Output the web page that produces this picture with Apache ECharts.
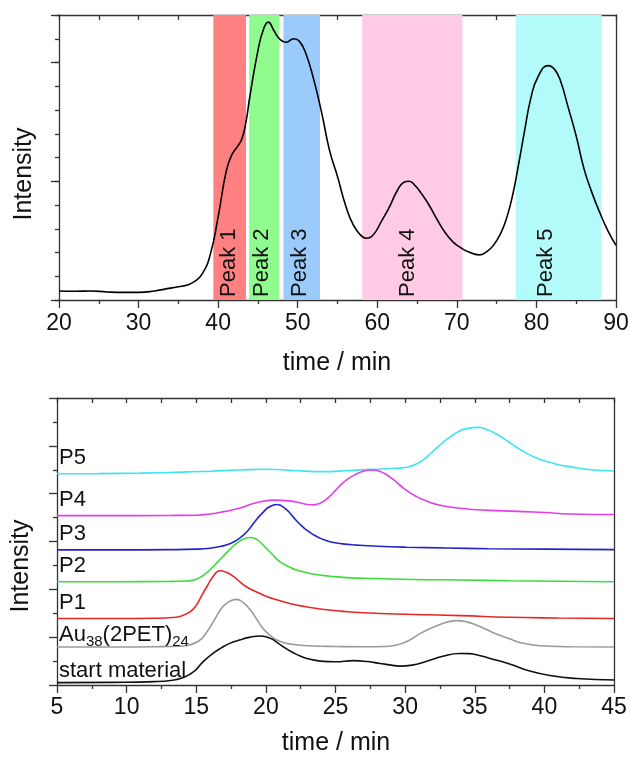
<!DOCTYPE html>
<html>
<head>
<meta charset="utf-8">
<script src="https://cdn.jsdelivr.net/npm/echarts@6/dist/echarts.min.js"></script>
<style>
  html, body { margin: 0; padding: 0; background: #fff; }
  #chart { width: 630px; height: 759px; }
</style>
</head>
<body>
<div id="chart"></div>
<script>
// ---------- upper panel: preparative run with collected fractions ----------
const prepTime = [20, 22, 24, 26, 28, 30, 32, 34, 35, 36, 37, 38, 39, 40, 41, 41.7, 42.5, 43, 43.5, 44, 45, 45.7, 46.3, 47, 47.7, 48.5, 49.5, 50.2, 51, 52, 53, 54, 55, 56, 57, 58, 58.6, 59.5, 60.5, 61.5, 62.5, 63.3, 64, 64.8, 65.5, 66.5, 67.5, 68.5, 69.5, 70.5, 71.5, 72.8, 73.8, 74.6, 75.5, 76.3, 77, 77.7, 78.5, 79.3, 80.2, 81.5, 82.3, 83, 84, 85, 86, 87, 88, 89, 90];
const prepIntensity = [0.38, 0.37, 0.38, 0.34, 0.32, 0.32, 0.38, 0.5, 0.56, 0.62, 0.77, 1.1, 1.9, 3.5, 5.4, 6.1, 6.5, 6.8, 7.5, 8.6, 10.5, 11.4, 11.7, 11.35, 11.0, 10.85, 11.0, 10.9, 10.4, 9.3, 7.9, 6.3, 5.2, 4.0, 3.15, 2.7, 2.6, 2.75, 3.3, 3.9, 4.6, 4.95, 5.0, 4.8, 4.5, 4.0, 3.4, 2.85, 2.45, 2.2, 2.02, 1.9, 2.05, 2.3, 2.8, 3.5, 4.4, 5.6, 7.1, 8.5, 9.4, 9.87, 9.7, 9.25, 8.1, 6.9, 5.5, 4.5, 3.65, 2.9, 2.3];

// collection windows (min) and where each window's label sits
const fractionNames = ['Peak 1', 'Peak 2', 'Peak 3', 'Peak 4', 'Peak 5'];
const fractionStart = [39.4, 43.9, 48.2, 58.1, 77.4];
const fractionEnd = [43.5, 47.7, 52.8, 70.7, 88.2];
const fractionLabelAt = [41.4, 45.5, 50.3, 63.8, 81.2];
const fractionColors = ['#ff8080', '#90fc90', '#9bcbfb', '#ffcbe4', '#b3fbfb'];

const prepTicks = [20, 30, 40, 50, 60, 70, 80, 90];

// ---------- lower panel: analytical runs of each fraction ----------
const traceNames = ['P5', 'P4', 'P3', 'P2', 'P1', 'Au38(2PET)24', 'start material'];
const traceColors = ['#3ee4ee', '#e040e6', '#2424c8', '#3cdc3c', '#e82828', '#9a9a9a', '#101010'];

const p5Time = [5, 8, 11, 14, 16, 18.1, 20, 22, 24.1, 26, 27.7, 29, 29.8, 30.4, 30.9, 31.4, 31.9, 32.5, 33.1, 33.7, 34.4, 35.25, 36, 36.8, 37.4, 38, 38.6, 39.2, 39.8, 40.4, 41.1, 41.8, 43, 44, 45];
const p5Val = [8.83, 8.84, 8.86, 8.9, 8.94, 8.99, 9.02, 8.97, 8.92, 8.97, 9.02, 9.05, 9.08, 9.15, 9.27, 9.45, 9.72, 10.03, 10.32, 10.55, 10.72, 10.77, 10.65, 10.41, 10.18, 9.94, 9.73, 9.55, 9.41, 9.31, 9.2, 9.13, 9.02, 8.97, 8.95];

const p4Time = [5, 9, 13, 15, 16, 17, 18.1, 19.3, 20.5, 21.7, 22.5, 23, 23.4, 23.8, 24.2, 24.6, 25, 25.4, 25.9, 26.5, 27, 27.6, 28.2, 28.7, 29.3, 29.9, 30.5, 31.1, 31.8, 32.5, 33.6, 34.9, 36.6, 38.5, 40, 41.8, 43.5, 45];
const p4Val = [7.08, 7.08, 7.09, 7.1, 7.15, 7.25, 7.39, 7.62, 7.73, 7.7, 7.61, 7.55, 7.53, 7.58, 7.7, 7.9, 8.14, 8.38, 8.62, 8.82, 8.94, 8.99, 8.93, 8.78, 8.52, 8.22, 7.98, 7.8, 7.63, 7.52, 7.41, 7.34, 7.29, 7.25, 7.21, 7.15, 7.13, 7.13];

const p3Time = [5, 9, 13, 15, 16, 16.8, 17.5, 18.1, 18.7, 19.3, 19.8, 20.2, 20.8, 21.5, 22, 22.45, 22.9, 23.4, 24, 24.6, 25.5, 26.5, 28, 30.1, 33, 36, 40, 45];
const p3Val = [5.65, 5.65, 5.66, 5.68, 5.72, 5.8, 5.93, 6.13, 6.45, 6.9, 7.22, 7.43, 7.55, 7.32, 7.0, 6.72, 6.49, 6.29, 6.11, 5.99, 5.9, 5.85, 5.8, 5.76, 5.73, 5.7, 5.68, 5.66];

const p2Time = [5, 9, 13, 14.3, 15, 15.7, 16.3, 16.9, 17.4, 17.9, 18.4, 18.9, 19.4, 19.8, 20.4, 21, 21.6, 22.2, 23.4, 24.6, 25.8, 28, 30.6, 34, 37.5, 41, 45];
const p2Val = [4.32, 4.32, 4.33, 4.35, 4.42, 4.67, 5.0, 5.36, 5.66, 5.92, 6.1, 6.17, 6.07, 5.85, 5.5, 5.16, 4.96, 4.81, 4.64, 4.55, 4.49, 4.45, 4.41, 4.39, 4.36, 4.34, 4.32];

const p1Time = [5, 9, 12, 13.3, 14, 14.6, 15, 15.4, 15.8, 16.2, 16.7, 17.2, 17.7, 18.1, 18.6, 19.3, 20.1, 20.9, 21.7, 22.8, 23.9, 25.4, 27, 30.6, 34, 37.5, 41, 45];
const p1Val = [2.78, 2.78, 2.79, 2.82, 2.9, 3.08, 3.33, 3.75, 4.15, 4.53, 4.78, 4.7, 4.53, 4.33, 4.11, 3.9, 3.69, 3.54, 3.41, 3.28, 3.18, 3.09, 3.02, 2.95, 2.9, 2.83, 2.8, 2.78];

const au38Time = [5, 9, 12, 13.8, 14.5, 15.2, 15.7, 16.3, 16.9, 17.4, 17.9, 18.4, 18.9, 19.4, 19.8, 20.4, 21, 22, 23.4, 25, 27, 28.5, 29.4, 30.3, 31.1, 31.8, 32.5, 33.1, 33.7, 34.4, 35.1, 35.8, 36.6, 37.5, 38.3, 39.2, 40.5, 42, 45];
const au38Val = [1.59, 1.59, 1.6, 1.62, 1.67, 1.85, 2.16, 2.72, 3.27, 3.5, 3.58, 3.43, 3.13, 2.7, 2.36, 2.03, 1.83, 1.69, 1.63, 1.61, 1.6, 1.61, 1.67, 1.87, 2.16, 2.36, 2.53, 2.64, 2.69, 2.64, 2.51, 2.33, 2.12, 1.93, 1.77, 1.67, 1.62, 1.6, 1.59];

const startTime = [5, 9, 12, 13.3, 14, 14.8, 15.5, 16.2, 16.8, 17.4, 18.1, 18.8, 19.6, 20.3, 21, 21.6, 22.2, 23, 23.9, 25, 26.3, 27.3, 28.2, 29, 29.6, 30.5, 31.5, 32.7, 33.9, 34.6, 35.4, 36.3, 37.5, 38.7, 40.4, 42.3, 45];
const startVal = [0.1, 0.11, 0.14, 0.2, 0.3, 0.55, 0.98, 1.32, 1.55, 1.74, 1.88, 1.99, 2.05, 1.96, 1.7, 1.47, 1.28, 1.1, 1.0, 0.97, 1.02, 0.98, 0.9, 0.83, 0.79, 0.83, 0.98, 1.2, 1.32, 1.31, 1.22, 1.08, 0.88, 0.63, 0.4, 0.27, 0.21];

const traceTimes = [p5Time, p4Time, p3Time, p2Time, p1Time, au38Time, startTime];
const traceValues = [p5Val, p4Val, p3Val, p2Val, p1Val, au38Val, startVal];

const runTicks = [5, 10, 15, 20, 25, 30, 35, 40, 45];

// ---------- styling ----------
const FONT = "'Liberation Sans', Arial, Helvetica, sans-serif";
const INK = '#111';
const FRAME = '#333';
const LW = 1.3;

const zip = (xs, ys) => xs.map((x, i) => [x, ys[i]]);

function frameAxis(extra) {
  return Object.assign({
    type: 'value',
    axisLine: { show: true, onZero: false, lineStyle: { color: FRAME, width: LW } },
    axisTick: { show: false },
    axisLabel: { show: false },
    splitLine: { show: false },
    minorTick: { show: false },
    minorSplitLine: { show: false }
  }, extra);
}

const tickStyle = { color: FRAME, width: LW };
const labelStyle = { show: true, margin: 12, fontSize: 23, color: INK, fontFamily: FONT };

const chart = echarts.init(document.getElementById('chart'), null, { renderer: 'canvas' });

const option = {
  animation: false,
  backgroundColor: '#fff',
  textStyle: { fontFamily: FONT },
  grid: [
    { left: 59, top: 15, width: 557, height: 285, outerBoundsMode: 'none' },
    { left: 57, top: 398, width: 557, height: 287, outerBoundsMode: 'none' }
  ],
  xAxis: [
    frameAxis({
      gridIndex: 0, position: 'bottom',
      min: prepTicks[0], max: prepTicks[prepTicks.length - 1], interval: 10,
      axisTick: { show: true, inside: false, length: 8, lineStyle: tickStyle },
      minorTick: { show: true, splitNumber: 2, length: 4, lineStyle: tickStyle },
      axisLabel: labelStyle
    }),
    frameAxis({
      gridIndex: 0, position: 'top',
      min: prepTicks[0], max: prepTicks[prepTicks.length - 1], interval: 5,
      axisTick: { show: true, inside: true, length: 5, lineStyle: tickStyle }
    }),
    frameAxis({
      gridIndex: 1, position: 'bottom',
      min: runTicks[0], max: runTicks[runTicks.length - 1], interval: 5,
      axisTick: { show: true, inside: false, length: 8, lineStyle: tickStyle },
      minorTick: { show: true, splitNumber: 2, length: 4, lineStyle: tickStyle },
      axisLabel: Object.assign({}, labelStyle, { margin: 11 })
    }),
    frameAxis({
      gridIndex: 1, position: 'top',
      min: runTicks[0], max: runTicks[runTicks.length - 1], interval: 2.5,
      axisTick: { show: true, inside: true, length: 5, lineStyle: tickStyle }
    })
  ],
  yAxis: [
    frameAxis({
      gridIndex: 0, position: 'left', min: 0, max: 12, interval: 5,
      axisTick: { show: true, inside: false, length: 8, lineStyle: tickStyle }
    }),
    frameAxis({
      gridIndex: 0, position: 'left', min: 0, max: 12, interval: 1,
      axisLine: { show: false, onZero: false },
      axisTick: { show: true, inside: false, length: 4, lineStyle: tickStyle }
    }),
    frameAxis({ gridIndex: 0, position: 'right', min: 0, max: 12 }),
    frameAxis({
      gridIndex: 1, position: 'left', min: 0, max: 12, interval: 2,
      axisTick: { show: true, inside: false, length: 8, lineStyle: tickStyle },
      minorTick: { show: true, splitNumber: 2, length: 4, lineStyle: tickStyle }
    }),
    frameAxis({ gridIndex: 1, position: 'right', min: 0, max: 12 })
  ],
  series: [
    {
      name: 'prep',
      type: 'line',
      xAxisIndex: 0,
      yAxisIndex: 0,
      data: zip(prepTime, prepIntensity),
      smooth: 0.5,
      symbol: 'none',
      z: 5,
      lineStyle: { color: '#000', width: 1.6 },
      markArea: {
        silent: true,
        z: 1,
        data: fractionStart.map((s, i) => [
          { xAxis: s, itemStyle: { color: fractionColors[i], opacity: 1 } },
          { xAxis: fractionEnd[i] }
        ])
      }
    }
  ].concat(traceNames.map((name, i) => ({
    name: name,
    type: 'line',
    xAxisIndex: 2,
    yAxisIndex: 3,
    data: zip(traceTimes[i], traceValues[i]),
    smooth: 0.5,
    symbol: 'none',
    z: 5,
    lineStyle: { color: traceColors[i], width: 1.6 }
  })))
};

chart.setOption(option);

// ---------- text laid out on top of the axes ----------
const toPx = (xi, yi, t, v) => chart.convertToPixel({ xAxisIndex: xi, yAxisIndex: yi }, [t, v]);
const graphics = [];

// fraction names, written upward from the bottom of each window
fractionNames.forEach((name, i) => {
  const p = toPx(0, 0, fractionLabelAt[i], 0);
  graphics.push({
    type: 'text', x: p[0], y: p[1] - 3, rotation: Math.PI / 2, z: 10,
    style: { text: name, font: '22px ' + FONT, fill: INK, align: 'left', verticalAlign: 'middle' }
  });
});

// trace names, just above where each trace starts
traceNames.forEach((name, i) => {
  const p = toPx(2, 3, traceTimes[i][0], traceValues[i][0]);
  const lift = i >= 5 ? 12 : 15.5;
  if (name === 'Au38(2PET)24') {
    graphics.push({
      type: 'text', x: p[0] + 2, y: p[1] - lift, z: 10,
      style: {
        text: '{m|Au}{s|38}{m|(2PET)}{s|24}',
        align: 'left', verticalAlign: 'middle', fill: INK,
        rich: {
          m: { fontSize: 22, fontFamily: FONT, fill: INK },
          s: { fontSize: 15, fontFamily: FONT, fill: INK, padding: [14, 0, 0, 0] }
        }
      }
    });
  } else {
    graphics.push({
      type: 'text', x: p[0] + 2, y: p[1] - lift, z: 10,
      style: { text: name, font: '22px ' + FONT, fill: INK, align: 'left', verticalAlign: 'middle' }
    });
  }
});

// axis titles
const axisTitle = (text, x, y, rot) => ({
  type: 'text', x: x, y: y, rotation: rot || 0, z: 10,
  style: { text: text, font: '25px ' + FONT, fill: INK, align: 'center', verticalAlign: 'middle' }
});
graphics.push(axisTitle('time / min', 337, 363));
graphics.push(axisTitle('time / min', 336, 743));
graphics.push(axisTitle('Intensity', 24, 174, Math.PI / 2));
graphics.push(axisTitle('Intensity', 21, 566, Math.PI / 2));

chart.setOption({ graphic: graphics });
</script>
</body>
</html>
